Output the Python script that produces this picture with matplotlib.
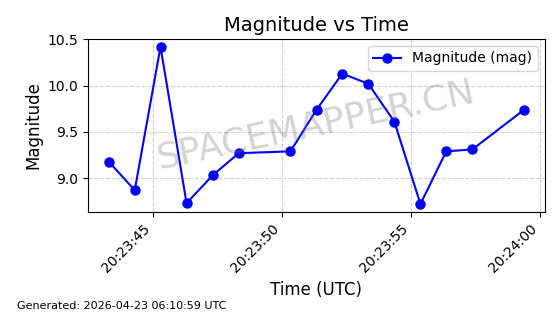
import matplotlib
matplotlib.use("Agg")
import matplotlib.pyplot as plt
import matplotlib.dates as mdates
from datetime import datetime, timedelta

# Data
base_time = "2026-04-22 20:23:00"
seconds = [43.29, 44.30, 45.30, 46.31, 47.32, 48.33, 50.34, 51.35, 52.35, 53.36,
           54.37, 55.38, 56.38, 57.39, 59.40]
magnitudes = [9.18, 8.87, 10.42, 8.73, 9.03, 9.27, 9.29, 9.74, 10.13, 10.02,
              9.61, 8.72, 9.29, 9.31, 9.74]
series_label = "Magnitude (mag)"
title = "Magnitude vs Time"
xlabel = "Time (UTC)"
ylabel = "Magnitude"
footer = "Generated: 2026-04-23 06:10:59 UTC"
watermark = "SPACEMAPPER.CN"

t0 = datetime.strptime(base_time, "%Y-%m-%d %H:%M:%S")
times = [t0 + timedelta(seconds=s) for s in seconds]

fig = plt.figure(figsize=(5.6, 3.14), dpi=100)
ax = fig.add_axes([0.157, 0.325, 0.816, 0.551])

ax.plot(times, magnitudes, color="blue", marker="o", markersize=6.5,
        linewidth=1.5, label=series_label)
ax.set_title(title, fontsize=14)
ax.set_xlabel(xlabel, fontsize=12)
ax.set_ylabel(ylabel, fontsize=12)
ax.grid(True, linestyle="--", alpha=0.6)
ax.legend(loc="upper right", fontsize=10)

ax.xaxis.set_major_locator(mdates.SecondLocator(bysecond=range(0, 60, 5)))
ax.xaxis.set_major_formatter(mdates.DateFormatter("%H:%M:%S"))
plt.setp(ax.get_xticklabels(), rotation=45, ha="right")

ax.text(0.5, 0.5, watermark, transform=ax.transAxes, fontsize=26,
        color="gray", alpha=0.35, rotation=12, ha="center", va="center")

fig.text(0.03, 0.015, footer, fontsize=8)

fig.savefig("out.png", dpi=100)
